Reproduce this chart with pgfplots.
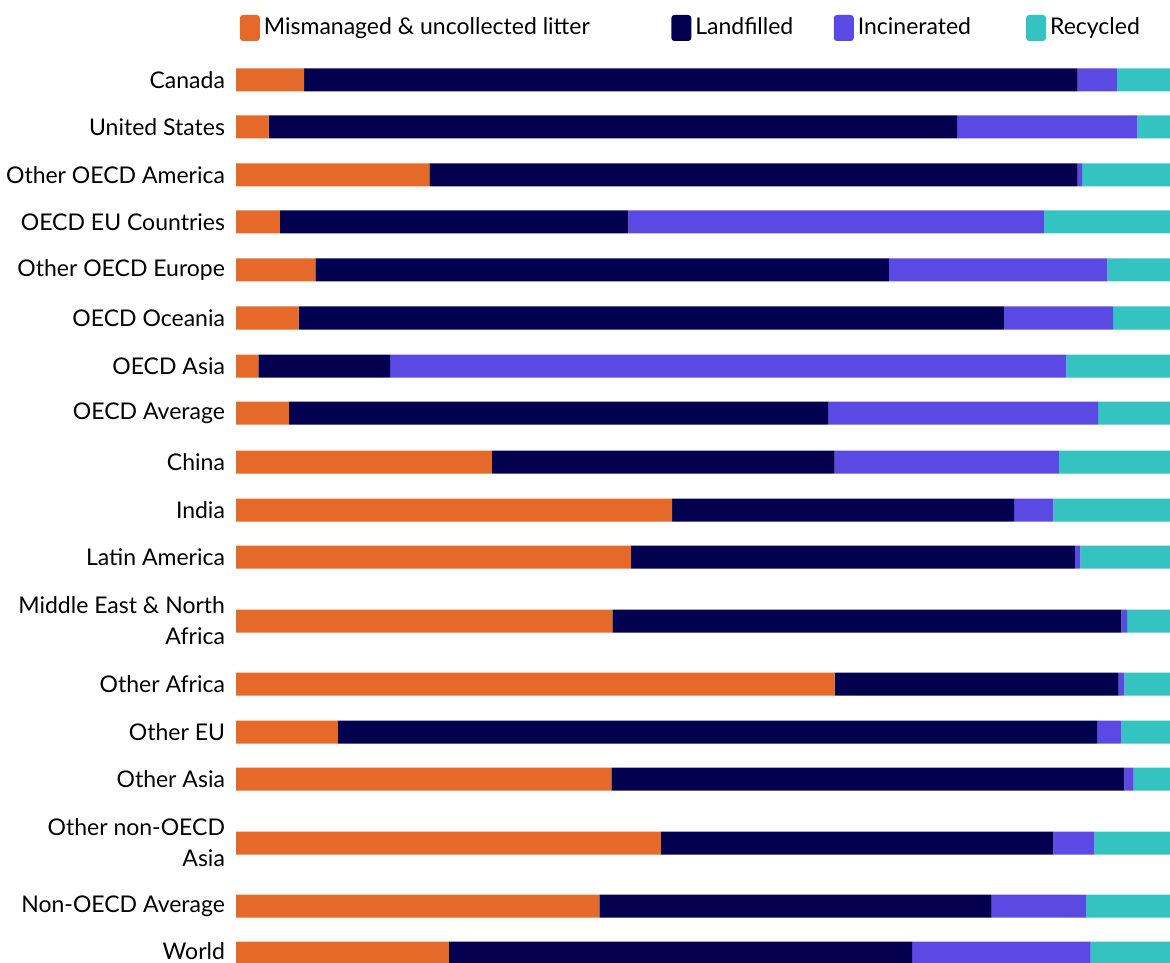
\documentclass[border=0pt]{standalone}
\usepackage{fontspec}
\setmainfont{Lato}
\usepackage{pgfplots}
\pgfplotsset{compat=1.18}
\definecolor{cOr}{HTML}{E56A29}
\definecolor{cNa}{HTML}{040050}
\definecolor{cPu}{HTML}{5A4AE3}
\definecolor{cTe}{HTML}{34C3C1}
\begin{document}
\begin{tikzpicture}
\useasboundingbox (0,0) rectangle (585pt,-481pt);
\begin{axis}[
  at={(118pt,-481pt)}, anchor=south west,
  scale only axis, width=467pt, height=453.5pt,
  xmin=0, xmax=100, ymin=-962, ymax=-55,
  xbar stacked, bar width=11.5pt,
  ytick={-80,-127,-175,-222,-270,-318,-366,-413,-462,-510,-557,-621,-684,-732,-779,-843,-906,-951},
  yticklabels={Canada,United States,Other OECD America,OECD EU Countries,Other OECD Europe,OECD Oceania,OECD Asia,OECD Average,China,India,Latin America,{Middle East \& North\\Africa},Other Africa,Other EU,Other Asia,{Other non-OECD\\Asia},Non-OECD Average,World},
  yticklabel style={align=right, font=\fontsize{11.5}{15.5}\selectfont, xshift=-2pt},
  xtick=\empty, axis line style={draw=none}, major tick length=0pt,
  legend columns=4,
  legend style={draw=none, fill=none, at={(axis description cs:0,1)}, anchor=west, yshift=13.5pt, xshift=-1.25pt,
    font=\fontsize{11.5}{14}\selectfont,
    /tikz/column 2/.style={column sep=38.75pt},
    /tikz/column 4/.style={column sep=18.25pt},
    /tikz/column 6/.style={column sep=25.5pt}},
  legend image code/.code={\fill[#1, rounded corners=1.5pt] (0pt,-6.5pt) rectangle (10pt,6.5pt);},
]
\addplot[fill=cOr, draw=none] coordinates {(7.3,-80) (3.5,-127) (20.7,-175) (4.7,-222) (8.5,-270) (6.7,-318) (2.4,-366) (5.7,-413) (27.4,-462) (46.7,-510) (42.3,-557) (40.3,-621) (64.1,-684) (10.9,-732) (40.2,-779) (45.5,-843) (38.9,-906) (22.8,-953)};
\addlegendentry{Mismanaged \& uncollected litter}
\addplot[fill=cNa, draw=none] coordinates {(82.8,-80) (73.7,-127) (69.4,-175) (37.3,-222) (61.4,-270) (75.5,-318) (14.1,-366) (57.7,-413) (36.7,-462) (36.6,-510) (47.5,-557) (54.5,-621) (30.4,-684) (81.3,-732) (54.9,-779) (42.0,-843) (42.0,-906) (49.6,-953)};
\addlegendentry{Landfilled}
\addplot[fill=cPu, draw=none] coordinates {(4.2,-80) (19.3,-127) (0.5,-175) (44.5,-222) (23.4,-270) (11.7,-318) (72.4,-366) (28.9,-413) (24.0,-462) (4.2,-510) (0.6,-557) (0.6,-621) (0.6,-684) (2.6,-732) (1.0,-779) (4.4,-843) (10.1,-906) (19.1,-953)};
\addlegendentry{Incinerated}
\addplot[fill=cTe, draw=none] coordinates {(5.7,-80) (3.5,-127) (9.4,-175) (13.5,-222) (6.7,-270) (6.1,-318) (11.1,-366) (7.7,-413) (11.9,-462) (12.5,-510) (9.6,-557) (4.6,-621) (4.9,-684) (5.2,-732) (3.9,-779) (8.1,-843) (9.0,-906) (8.5,-953)};
\addlegendentry{Recycled}
\end{axis}
\end{tikzpicture}
\end{document}
